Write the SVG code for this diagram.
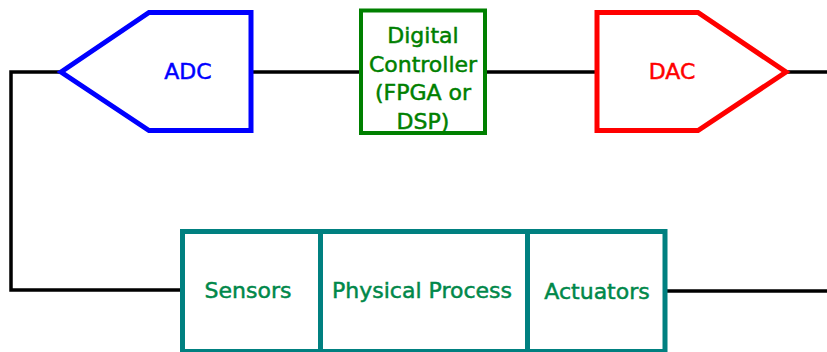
<svg xmlns="http://www.w3.org/2000/svg" width="827" height="352" viewBox="0 0 827 352">
<style>
.wire{fill:none;stroke:#000;stroke-width:3.5}
.t{font-family:"DejaVu Sans",Verdana,sans-serif;font-size:22px;text-anchor:middle;stroke-width:0.5}
.shape{fill:#fff;stroke-width:5;stroke-linejoin:miter}
.pp{fill:#fff;stroke:#008080;stroke-width:5}
.ppt{fill:#00884a;stroke:#00884a}
</style>
<rect width="827" height="352" fill="#fff"/>
<g id="connectors">
<polyline class="wire" points="181,290 11,290 11,72 61,72"/>
<line class="wire" x1="251" y1="72" x2="361" y2="72"/>
<line class="wire" x1="485" y1="72" x2="597" y2="72"/>
<line class="wire" x1="786" y1="72" x2="827" y2="72"/>
<line class="wire" x1="666" y1="291" x2="827" y2="291"/>
</g>
<g id="adc">
<polygon class="shape" stroke="#0000ff" points="61,72 149,12.5 251,12.5 251,130.5 149,130.5"/>
<text class="t" x="188" y="79" fill="#0000ff" stroke="#0000ff">ADC</text>
</g>
<g id="controller">
<rect x="361" y="10.5" width="124" height="122.5" fill="#fff" stroke="#008000" stroke-width="4"/>
<text class="t" fill="#008000" stroke="#008000" font-size="21" x="423" y="43">Digital</text>
<text class="t" fill="#008000" stroke="#008000" font-size="21" x="423" y="71.5">Controller</text>
<text class="t" fill="#008000" stroke="#008000" font-size="21" x="423" y="100">(FPGA or</text>
<text class="t" fill="#008000" stroke="#008000" font-size="21" x="423" y="128.5">DSP)</text>
</g>
<g id="dac">
<polygon class="shape" stroke="#ff0000" points="597,12.5 698,12.5 786,72 698,130.5 597,130.5"/>
<text class="t" x="672" y="79" fill="#ff0000" stroke="#ff0000">DAC</text>
</g>
<g id="sensors">
<rect class="pp" x="182.5" y="231.5" width="138" height="120"/>
<text class="t ppt" x="248" y="297.5">Sensors</text>
</g>
<g id="physical-process">
<rect class="pp" x="320.5" y="231.5" width="207" height="120"/>
<text class="t ppt" x="422" y="297.5">Physical Process</text>
</g>
<g id="actuators">
<rect class="pp" x="527.5" y="231.5" width="137.5" height="120"/>
<text class="t ppt" x="597" y="298.5">Actuators</text>
</g>
</svg>
